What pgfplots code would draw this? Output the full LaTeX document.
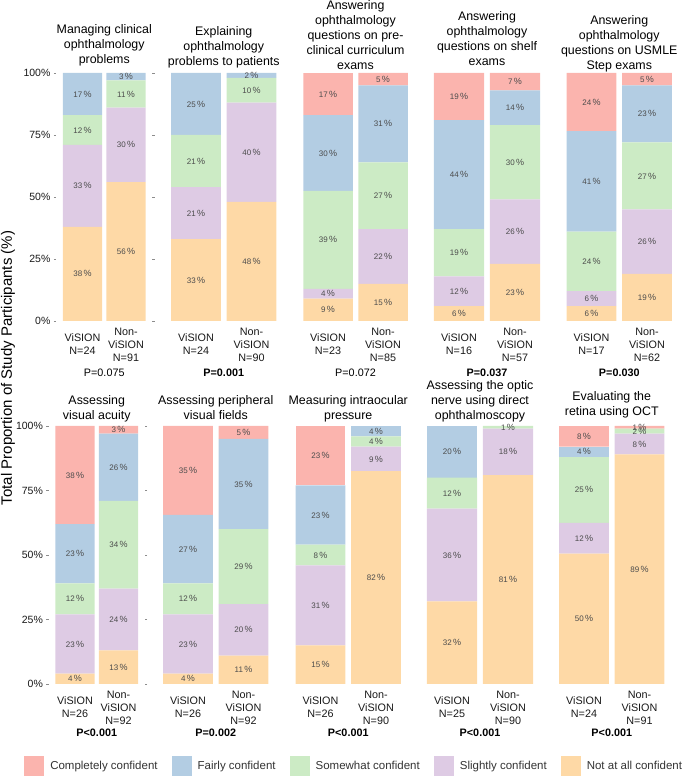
\documentclass[border=0pt]{standalone}
\usepackage{pgfplots}
\usepackage{pgfplotstable}
\pgfplotsset{compat=1.18}
\usepackage{fontspec}
\setmainfont{Liberation Sans}

\definecolor{cC}{HTML}{FBB4AE}
\definecolor{cF}{HTML}{B3CDE3}
\definecolor{cW}{HTML}{CCEBC5}
\definecolor{cS}{HTML}{DECBE4}
\definecolor{cN}{HTML}{FED9A6}

% columns: n = Not at all, s = Slightly, w = Somewhat, f = Fairly, c = Completely confident
\pgfplotstableread{
x n s w f c
0 38 33 12 17 0
1 56 30 11 3 0
}\tabA
\pgfplotstableread{
x n s w f c
0 33 21 21 25 0
1 48 40 10 2 0
}\tabB
\pgfplotstableread{
x n s w f c
0 9 4 39.49 30.49 17
1 15 22 27 31 5
}\tabC
\pgfplotstableread{
x n s w f c
0 6 12 19 44 19
1 23 26 30 14 7
}\tabD
\pgfplotstableread{
x n s w f c
0 6 6 24 40.51 23.51
1 19 26 27 23 5
}\tabE
\pgfplotstableread{
x n s w f c
0 4 23 12 23 38
1 13 24 34 26 3
}\tabF
\pgfplotstableread{
x n s w f c
0 4 23 12 26.51 34.51
1 11 20 29 35 5
}\tabG
\pgfplotstableread{
x n s w f c
0 15 31 8 23 23
1 82.49 9.49 4 4 0
}\tabH
\pgfplotstableread{
x n s w f c
0 32 36 12 20 0
1 81 18 1 0 0
}\tabI
\pgfplotstableread{
x n s w f c
0 50.49 12 25.49 4 8
1 89 8 2 0 1
}\tabJ

\pgfplotsset{
  panel/.style={
    scale only axis, ybar stacked, bar width=0.9,
    xmin=-0.6, xmax=1.6, ymin=0, ymax=100,
    axis line style={draw=none},
    xtick={0,1}, xtick style={draw=none},
    ytick={0,25,50,75,100}, yticklabels={}, ytick style={draw=none},
    major tick length=2.5pt, tick align=outside,
    /pgf/number format/assume math mode=true,
    xticklabel style={font=\fontsize{10.8}{13}\selectfont, align=center, anchor=center, yshift=-21pt, text=black!90},
    yticklabel style={font=\fontsize{10.5}{12}\selectfont, text=black!90},
    every axis title/.style={font=\fontsize{12.4}{15}\selectfont, align=center, anchor=south, at={(axis description cs:0.5,1)}, inner sep=0pt},
    every axis x label/.style={font=\fontsize{10.8}{13}\selectfont, at={(axis description cs:0.5,0)}, anchor=center},
    clip=false,
  },
  firstp/.style={
    yticklabels={0\%,25\%,50\%,75\%,100\%},
    ytick style={draw=black!45, line width=0.5pt},
  },
  lab/.style={scale only axis, hide axis, xmin=-0.6, xmax=1.6, ymin=0, ymax=100, clip=false,
    /pgf/number format/assume math mode=true},
  lbl/.style={only marks, mark=none, restrict y to domain=0:100,
    nodes near coords={\pgfmathprintnumber[fixed,precision=0,assume math mode=true]{\pgfplotspointmeta}\,{\fontsize{9}{10}\selectfont\%}},
    every node near coord/.append style={anchor=center, font=\fontsize{8}{9}\selectfont, text=black!70, inner sep=0pt}},
}

\newcommand{\panel}[9]{%
\begin{axis}[panel, at={(#1pt,#2pt)}, width=#3pt, height=#4pt, title={#6}, xticklabels={#7}, xlabel={#8}, #9]
\addplot[fill=cN, draw=none] table[x=x,y=n]{#5};
\addplot[fill=cS, draw=none] table[x=x,y=s]{#5};
\addplot[fill=cW, draw=none] table[x=x,y=w]{#5};
\addplot[fill=cF, draw=none] table[x=x,y=f]{#5};
\addplot[fill=cC, draw=none] table[x=x,y=c]{#5};
\end{axis}
\begin{axis}[lab, at={(#1pt,#2pt)}, width=#3pt, height=#4pt]
\addplot[lbl, point meta=\thisrow{n}] table[x=x, y expr={\thisrow{n}>0 ? \thisrow{n}/2 : -50}]{#5};
\addplot[lbl, point meta=\thisrow{s}] table[x=x, y expr={\thisrow{s}>0 ? \thisrow{n}+\thisrow{s}/2 : -50}]{#5};
\addplot[lbl, point meta=\thisrow{w}] table[x=x, y expr={\thisrow{w}>0 ? \thisrow{n}+\thisrow{s}+\thisrow{w}/2 : -50}]{#5};
\addplot[lbl, point meta=\thisrow{f}] table[x=x, y expr={\thisrow{f}>0 ? \thisrow{n}+\thisrow{s}+\thisrow{w}+\thisrow{f}/2 : -50}]{#5};
\addplot[lbl, point meta=\thisrow{c}] table[x=x, y expr={\thisrow{c}>0 ? \thisrow{n}+\thisrow{s}+\thisrow{w}+\thisrow{f}+\thisrow{c}/2 : -50}]{#5};
\end{axis}
}

\begin{document}
\begin{tikzpicture}[x=1pt,y=1pt]
\path[use as bounding box] (0,0) rectangle (685,778);

% top row
\panel{56.4}{457}{95.7}{248}{\tabA}{Managing clinical\\ophthalmology\\problems}{{ViSION\\N=24},{Non-\\ViSION\\N=91}}{P=0.075}{firstp, title style={yshift=7pt}, xlabel style={yshift=-52pt}}
\panel{162.7}{457}{122.1}{248}{\tabB}{Explaining\\ophthalmology\\problems to patients}{{ViSION\\N=24},{Non-\\ViSION\\N=90}}{\textbf{P=0.001}}{title style={yshift=5pt}, xlabel style={yshift=-52pt}}
\panel{295}{457}{121}{248}{\tabC}{Answering\\ophthalmology\\questions on pre-\\clinical curriculum\\exams}{{ViSION\\N=23},{Non-\\ViSION\\N=85}}{P=0.072}{title style={yshift=3.5pt}, xlabel style={yshift=-52pt}}
\panel{425.4}{457}{123.2}{248}{\tabD}{Answering\\ophthalmology\\questions on shelf\\exams}{{ViSION\\N=16},{Non-\\ViSION\\N=57}}{\textbf{P=0.037}}{title style={yshift=7.5pt}, xlabel style={yshift=-52pt}}
\panel{558.2}{457}{122.1}{248}{\tabE}{Answering\\ophthalmology\\questions on USMLE\\Step exams}{{ViSION\\N=17},{Non-\\ViSION\\N=62}}{\textbf{P=0.030}}{title style={yshift=1pt}, xlabel style={yshift=-52pt}}

% bottom row
\panel{48.9}{94}{95.7}{258}{\tabF}{Assessing\\visual acuity}{{ViSION\\N=26},{Non-\\ViSION\\N=92}}{\textbf{P<0.001}}{firstp, title style={yshift=4pt}, xlabel style={yshift=-49pt}}
\panel{154.7}{94}{122.1}{258}{\tabG}{Assessing peripheral\\visual fields}{{ViSION\\N=26},{Non-\\ViSION\\N=92}}{\textbf{P=0.002}}{title style={yshift=6.5pt}, xlabel style={yshift=-49pt}}
\panel{287.2}{94}{122.1}{258}{\tabH}{Measuring intraocular\\pressure}{{ViSION\\N=26},{Non-\\ViSION\\N=90}}{\textbf{P<0.001}}{title style={yshift=4pt}, xlabel style={yshift=-49pt}}
\panel{418.4}{94}{123.2}{258}{\tabI}{Assessing the optic\\nerve using direct\\ophthalmoscopy}{{ViSION\\N=25},{Non-\\ViSION\\N=90}}{\textbf{P<0.001}}{title style={yshift=4pt}, xlabel style={yshift=-49pt}}
\panel{550.7}{94}{122.1}{258}{\tabJ}{Evaluating the\\retina using OCT}{{ViSION\\N=24},{Non-\\ViSION\\N=91}}{\textbf{P<0.001}}{title style={yshift=8pt}, xlabel style={yshift=-49pt}}

% y axis label
\node[rotate=90, font=\fontsize{15}{18}\selectfont] at (8,410) {Total Proportion of Study Participants (\%)};

% legend
\begin{axis}[hide axis, scale only axis, at={(0pt,0pt)}, width=685pt, height=24pt,
  xmin=0, xmax=1, ymin=0, ymax=1,
  legend image code/.code={\fill[#1] (0pt,-10pt) rectangle (20pt,10pt);},
  legend style={at={(axis description cs:0.517,0.5)}, anchor=center, draw=none, fill=none,
    legend columns=5, font=\fontsize{11.5}{13}\selectfont, text=black!80,
    /tikz/every odd column/.append style={column sep=4pt},
    /tikz/every even column/.append style={column sep=12pt}}]
\addlegendimage{fill=cC, draw=none}\addlegendentry{Completely confident}
\addlegendimage{fill=cF, draw=none}\addlegendentry{Fairly confident}
\addlegendimage{fill=cW, draw=none}\addlegendentry{Somewhat confident}
\addlegendimage{fill=cS, draw=none}\addlegendentry{Slightly confident}
\addlegendimage{fill=cN, draw=none}\addlegendentry{Not at all confident}
\end{axis}
\end{tikzpicture}
\end{document}
